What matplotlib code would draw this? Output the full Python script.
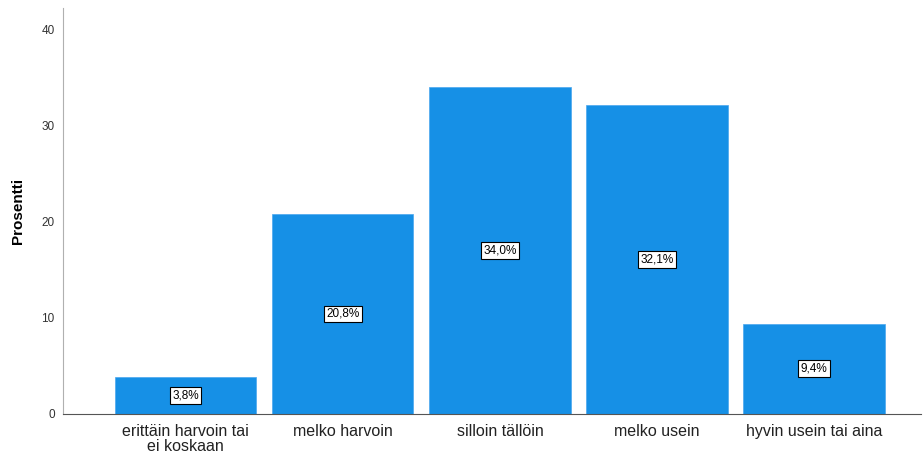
import numpy as np
import matplotlib.pyplot as plt

categories = ["erittäin harvoin tai\nei koskaan", "melko harvoin", "silloin tällöin",
              "melko usein", "hyvin usein tai aina"]
percent = [3.8, 20.8, 34.0, 32.1, 9.4]
value_labels = ["3,8%", "20,8%", "34,0%", "32,1%", "9,4%"]
y_ticks = [0, 10, 20, 30, 40]

plt.rcParams["font.family"] = ["Liberation Sans", "DejaVu Sans"]

fig = plt.figure(figsize=(9.24, 4.57), dpi=100)
ax = fig.add_axes([0.0682, 0.0941, 0.9286, 0.8884])

x = np.arange(len(categories))
bars = ax.bar(x, percent, width=0.9, color="#1690e6", edgecolor="#4aa6ee", linewidth=0.5)

for rect, lab in zip(bars, value_labels):
    ax.text(rect.get_x() + rect.get_width() / 2, rect.get_height() / 2, lab,
            ha="center", va="center", fontsize=8.5, color="black",
            bbox=dict(boxstyle="square,pad=0.2", facecolor="white",
                      edgecolor="black", linewidth=0.8))

ax.set_xlim(-0.78, 4.68)
ax.set_ylim(0, 42.2)
ax.set_xticks(x)
ax.set_xticklabels(categories, fontsize=11.5, linespacing=1.05, color="#222222")
ax.set_yticks(y_ticks)
ax.set_yticklabels([str(t) for t in y_ticks], fontsize=8.5, color="#333333")
ax.tick_params(axis="x", length=0, pad=7)
ax.tick_params(axis="y", length=0, pad=6)
ax.set_ylabel("Prosentti", fontsize=11, fontweight="bold", labelpad=12)

for side in ["top", "right"]:
    ax.spines[side].set_visible(False)
ax.spines["left"].set_color("#b0b0b0")
ax.spines["bottom"].set_color("#555555")

fig.savefig("out.png", dpi=100)
